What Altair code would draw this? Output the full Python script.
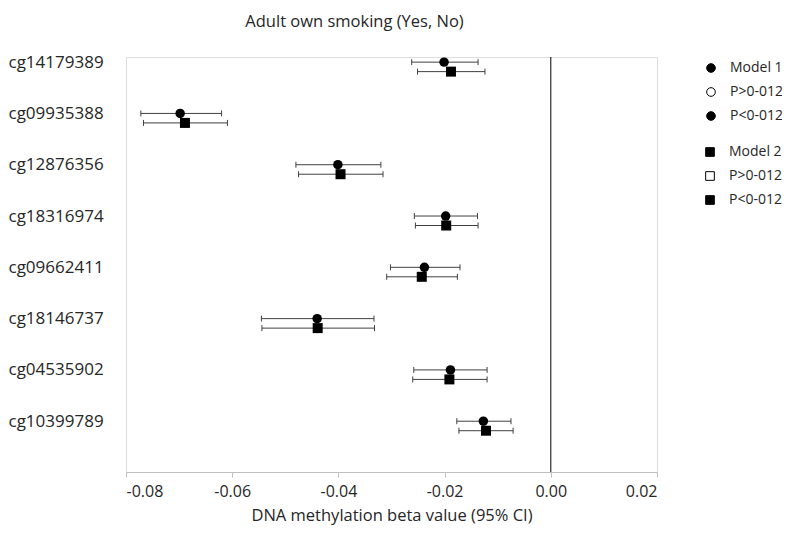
import altair as alt
import pandas as pd

# --- data ---
cpg = ["cg14179389", "cg09935388", "cg12876356", "cg18316974",
       "cg09662411", "cg18146737", "cg04535902", "cg10399789"]
m1_est = [-0.0201, -0.0698, -0.0401, -0.0198, -0.0238, -0.0440, -0.0189, -0.0127]
m1_lo  = [-0.0262, -0.0772, -0.0480, -0.0257, -0.0302, -0.0545, -0.0258, -0.0177]
m1_hi  = [-0.0137, -0.0620, -0.0320, -0.0138, -0.0171, -0.0333, -0.0120, -0.0075]
m2_est = [-0.0188, -0.0689, -0.0396, -0.0197, -0.0243, -0.0439, -0.0191, -0.0122]
m2_lo  = [-0.0251, -0.0767, -0.0475, -0.0255, -0.0309, -0.0544, -0.0260, -0.0173]
m2_hi  = [-0.0124, -0.0609, -0.0316, -0.0137, -0.0176, -0.0332, -0.0120, -0.0071]
x_ticks = [-0.08, -0.06, -0.04, -0.02, 0.00, 0.02]
legend1 = ["Model 1", "P>0-012", "P<0-012"]
legend2 = ["Model 2", "P>0-012", "P<0-012"]

OFF = 0.185  # vertical offset of model 2 within a row
rows = []
for i, name in enumerate(cpg):
    rows.append(dict(cpg=name, idx=i, pos=i, model="Model 1", est=m1_est[i],
                     lo=m1_lo[i], hi=m1_hi[i], sig1="P<0-012", sig2=None))
    rows.append(dict(cpg=name, idx=i, pos=i + OFF, model="Model 2", est=m2_est[i],
                     lo=m2_lo[i], hi=m2_hi[i], sig1=None, sig2="P<0-012"))
df = pd.DataFrame(rows)

FONT = "Open Sans"
TXT = "#262626"

xscale = alt.Scale(domain=[-0.08, 0.02], nice=False, zero=False)
yscale = alt.Scale(domain=[-0.1, 7.99], reverse=True, nice=False, zero=False)

label_arr = "[" + ",".join("'%s'" % c for c in cpg) + "]"

xaxis = alt.Axis(values=x_ticks, grid=False, domainColor="#bfbfbf", tickColor="#bfbfbf",
                 tickSize=5, labelFontSize=16, labelColor=TXT, labelFont=FONT,
                 labelPadding=6, labelExpr="replace(format(datum.value, '.2f'), '\u2212', '-')",
                 title="DNA methylation beta value (95% CI)", titleFont=FONT,
                 titleFontSize=16.5, titleFontWeight="normal", titleColor=TXT, titlePadding=8)
yaxis = alt.Axis(values=list(range(len(cpg))), grid=False, domain=False, ticks=False,
                 tickSize=0, labelAlign="left", labelPadding=118, labelFontSize=17,
                 labelColor=TXT, labelFont=FONT, labelBaseline="middle",
                 labelExpr=label_arr + "[datum.value]", title=None)

base = alt.Chart(df)

zero = alt.Chart(pd.DataFrame({"v": [0.0]})).mark_rule(color="#000000", strokeWidth=1).encode(
    x=alt.X("v:Q", scale=xscale, axis=xaxis))

bars = base.mark_rule(color="#404040", strokeWidth=1).encode(
    x=alt.X("lo:Q", scale=xscale, axis=xaxis), x2="hi:Q",
    y=alt.Y("pos:Q", scale=yscale, axis=yaxis))

cap_lo = base.mark_rule(color="#404040", strokeWidth=1, yOffset=-3, y2Offset=3).encode(
    x=alt.X("lo:Q", scale=xscale), y=alt.Y("pos:Q", scale=yscale), y2="pos:Q")
cap_hi = base.mark_rule(color="#404040", strokeWidth=1, yOffset=-3, y2Offset=3).encode(
    x=alt.X("hi:Q", scale=xscale), y=alt.Y("pos:Q", scale=yscale), y2="pos:Q")

leg_common = dict(title=None, orient="none", symbolStrokeColor="black", symbolStrokeWidth=1,
                  symbolOpacity=1, labelFont=FONT, labelFontSize=14, labelColor=TXT,
                  labelOffset=12, rowPadding=10, padding=0, symbolSize=75)

circles = base.transform_filter("datum.model == 'Model 1'").mark_point(
    shape="circle", filled=True, size=90, opacity=1, stroke=None).encode(
    x=alt.X("est:Q", scale=xscale), y=alt.Y("pos:Q", scale=yscale),
    fill=alt.Fill("sig1:N", scale=alt.Scale(domain=legend1, range=["black", "white", "black"]),
                  legend=alt.Legend(symbolType="circle", legendX=578, legendY=4, **leg_common)))

squares = base.transform_filter("datum.model == 'Model 2'").mark_point(
    shape="square", filled=True, size=100, opacity=1, stroke=None).encode(
    x=alt.X("est:Q", scale=xscale), y=alt.Y("pos:Q", scale=yscale),
    fill=alt.Fill("sig2:N", scale=alt.Scale(domain=legend2, range=["black", "white", "black"]),
                  legend=alt.Legend(symbolType="square", legendX=577, legendY=88, **leg_common)))

chart = alt.layer(zero, bars, cap_lo, cap_hi, circles, squares).resolve_scale(
    fill="independent"
).properties(
    width=531, height=415,
    autosize=alt.AutoSizeParams(type="none"),
    padding={"left": 118, "top": 49, "right": 125, "bottom": 53},
    title=alt.TitleParams("Adult own smoking (Yes, No)", font=FONT, fontSize=16.5,
                          fontWeight="normal", color=TXT, anchor="middle", dx=-37, offset=23),
).configure_view(stroke=None).configure(background="white")

chart.save("out.html", embed_options={"renderer": "svg", "actions": False})
